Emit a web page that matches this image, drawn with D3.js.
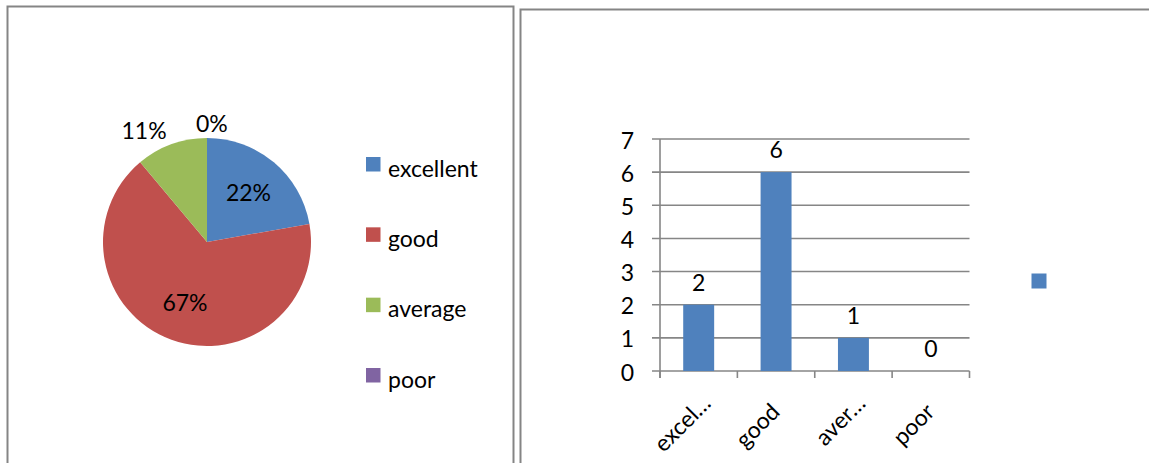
<!DOCTYPE html>
<html>
<head>
<meta charset="utf-8">
<script src="https://cdn.jsdelivr.net/npm/d3@7/dist/d3.min.js"></script>
<style>
  html, body { margin: 0; padding: 0; background: #fff; }
  svg text { font-family: Lato, "Noto Sans", sans-serif; fill: #000; }
</style>
</head>
<body>
<svg id="chart" width="1149" height="463"></svg>
<script>
// ---- data ----
const categories = ["excellent", "good", "average", "poor"];
const counts = [2, 6, 1, 0];
const barLabels = ["excel…", "good", "aver…", "poor"];
const yTicks = [0, 1, 2, 3, 4, 5, 6, 7];
const colors = ["#4F81BD", "#C0504D", "#9BBB59", "#8064A2"];

const svg = d3.select("#chart");
const fontSize = 23;

// ---- panel frames ----
svg.append("rect").attr("x", 7.5).attr("y", 6.5).attr("width", 506).attr("height", 520)
  .attr("fill", "none").attr("stroke", "#858585").attr("stroke-width", 2);
svg.append("rect").attr("x", 520.5).attr("y", 9.5).attr("width", 700).attr("height", 520)
  .attr("fill", "none").attr("stroke", "#858585").attr("stroke-width", 2);

// ---- pie chart ----
const cx = 207, cy = 242, r = 104;
const total = d3.sum(counts);
const pct = d3.format(".0%");
const pie = d3.pie().sort(null).value(d => d.v);
const pieData = pie(categories.map((c, i) => ({ c, v: counts[i], i })));
const arc = d3.arc().innerRadius(0).outerRadius(r);
const gPie = svg.append("g").attr("transform", `translate(${cx},${cy})`);
gPie.selectAll("path").data(pieData).join("path")
  .attr("d", arc).attr("fill", d => colors[d.data.i]);

const inArc = d3.arc().innerRadius(r * 0.62).outerRadius(r * 0.62);
gPie.selectAll("text").data(pieData).join("text")
  .attr("font-size", fontSize)
  .attr("dy", "0.35em")
  .each(function (d) {
    const a = (d.startAngle + d.endAngle) / 2;
    const span = d.endAngle - d.startAngle;
    const t = d3.select(this).text(pct(d.data.v / total));
    if (span > 1.0) {
      const [x, y] = inArc.centroid(d);
      t.attr("x", x).attr("y", y).attr("text-anchor", "middle");
    } else {
      const rr = r + 14;
      const x = rr * Math.sin(a), y = -rr * Math.cos(a);
      const anchor = Math.abs(x) < 5 ? "start" : (x < 0 ? "end" : "start");
      t.attr("x", Math.abs(x) < 5 ? x - 11 : x).attr("y", y).attr("text-anchor", anchor);
    }
  });

// pie legend
const legY = d3.scalePoint().domain(categories).range([164, 375]);
const leg = svg.append("g").selectAll("g").data(categories).join("g")
  .attr("transform", d => `translate(366,${legY(d)})`);
leg.append("rect").attr("x", 0).attr("y", -7).attr("width", 14.5).attr("height", 14.5)
  .attr("fill", (d, i) => colors[i]);
leg.append("text").attr("x", 22).attr("y", 0).attr("dy", "0.55em")
  .attr("font-size", fontSize).text(d => d);

// ---- bar chart ----
const x0 = 660, x1 = 969.5, yBottom = 371, yTop = 139;
const x = d3.scaleBand().domain(categories).range([x0, x1]).padding(0);
const y = d3.scaleLinear().domain([0, 7]).range([yBottom, yTop]);
const gBar = svg.append("g");
const gridColor = "#868686";

// gridlines + y ticks
gBar.selectAll("line.grid").data(yTicks).join("line")
  .attr("class", "grid")
  .attr("x1", x0 - 8).attr("x2", x1)
  .attr("y1", d => y(d)).attr("y2", d => y(d))
  .attr("stroke", gridColor).attr("stroke-width", 1.6);
gBar.selectAll("text.ytick").data(yTicks).join("text")
  .attr("class", "ytick")
  .attr("x", 634).attr("y", d => y(d) + 1.5).attr("dy", "0.35em")
  .attr("text-anchor", "end").attr("font-size", fontSize).text(d => d);

// y axis line
gBar.append("line").attr("x1", x0).attr("x2", x0).attr("y1", yTop).attr("y2", yBottom + 7)
  .attr("stroke", gridColor).attr("stroke-width", 1.6);
// x tick marks at category boundaries
const bounds = categories.map(c => x(c)).concat([x1]);
gBar.selectAll("line.xtick").data(bounds).join("line")
  .attr("class", "xtick")
  .attr("x1", d => d).attr("x2", d => d).attr("y1", yBottom).attr("y2", yBottom + 7)
  .attr("stroke", gridColor).attr("stroke-width", 1.6);

// bars
const bw = x.bandwidth() * 0.4;
gBar.selectAll("rect.bar").data(categories).join("rect")
  .attr("class", "bar")
  .attr("x", d => x(d) + (x.bandwidth() - bw) / 2)
  .attr("width", bw)
  .attr("y", (d, i) => y(counts[i]))
  .attr("height", (d, i) => yBottom - y(counts[i]))
  .attr("fill", colors[0]);

// value labels
gBar.selectAll("text.val").data(categories).join("text")
  .attr("class", "val")
  .attr("x", d => x(d) + x.bandwidth() / 2)
  .attr("y", (d, i) => y(counts[i]) - 14)
  .attr("text-anchor", "middle").attr("font-size", fontSize)
  .text((d, i) => counts[i]);

// rotated category labels
gBar.selectAll("text.xlab").data(categories).join("text")
  .attr("class", "xlab")
  .attr("text-anchor", "end").attr("font-size", fontSize)
  .attr("dy", "0.75em")
  .attr("dx", (d, i) => barLabels[i].endsWith("…") ? 2 : -10)
  .attr("transform", d => `translate(${x(d) + x.bandwidth() / 2},${yBottom + 23}) rotate(-45)`)
  .text((d, i) => barLabels[i]);

// bar legend (series marker without text)
svg.append("rect").attr("x", 1031.5).attr("y", 273.5).attr("width", 15).attr("height", 15)
  .attr("fill", colors[0]);
</script>
</body>
</html>
